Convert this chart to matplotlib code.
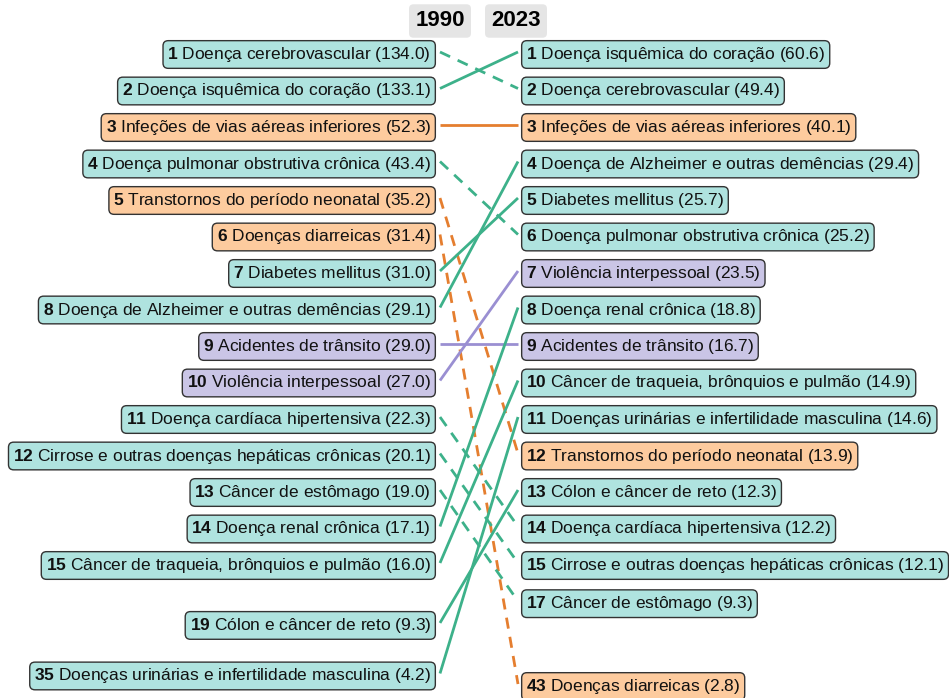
import numpy as np
import matplotlib
matplotlib.use("Agg")
import matplotlib.pyplot as plt

plt.rcParams['font.family'] = ['Liberation Sans', 'DejaVu Sans']
plt.rcParams['mathtext.fontset'] = 'custom'
plt.rcParams['mathtext.rm'] = 'Liberation Sans'
plt.rcParams['mathtext.bf'] = 'Liberation Sans:bold'

# ---- data ----
causes = [
    "Doença cerebrovascular",
    "Doença isquêmica do coração",
    "Infeções de vias aéreas inferiores",
    "Doença pulmonar obstrutiva crônica",
    "Transtornos do período neonatal",
    "Doenças diarreicas",
    "Diabetes mellitus",
    "Doença de Alzheimer e outras demências",
    "Acidentes de trânsito",
    "Violência interpessoal",
    "Doença cardíaca hipertensiva",
    "Cirrose e outras doenças hepáticas crônicas",
    "Câncer de estômago",
    "Doença renal crônica",
    "Câncer de traqueia, brônquios e pulmão",
    "Cólon e câncer de reto",
    "Doenças urinárias e infertilidade masculina",
]
rank_1990 = [1, 2, 3, 4, 5, 6, 7, 8, 9, 10, 11, 12, 13, 14, 15, 19, 35]
rate_1990 = [134.0, 133.1, 52.3, 43.4, 35.2, 31.4, 31.0, 29.1, 29.0, 27.0,
             22.3, 20.1, 19.0, 17.1, 16.0, 9.3, 4.2]
rank_2023 = [2, 1, 3, 6, 12, 43, 5, 4, 9, 7, 14, 15, 17, 8, 10, 13, 11]
rate_2023 = [49.4, 60.6, 40.1, 25.2, 13.9, 2.8, 25.7, 29.4, 16.7, 23.5,
             12.2, 12.1, 9.3, 18.8, 14.9, 12.3, 14.6]
group = ["ncd", "ncd", "cmn", "ncd", "cmn", "cmn", "ncd", "ncd", "inj", "inj",
         "ncd", "ncd", "ncd", "ncd", "ncd", "ncd", "ncd"]
years = ["1990", "2023"]

fill_colors = {"ncd": "#AFE3DF", "cmn": "#FDCB9E", "inj": "#CAC5E6"}
line_colors = {"ncd": "#3DB18A", "cmn": "#E57E2F", "inj": "#9A8FD2"}


def pos(rank):
    # compressed scale below rank 15
    rank = np.asarray(rank, dtype=float)
    return np.where(rank <= 15, rank,
                    15 + 0.86 * np.log(np.maximum(rank - 15, 1e-9)) + 0.45)


W, H = 949, 698
fig = plt.figure(figsize=(W / 100, H / 100), dpi=100)
ax = fig.add_axes([0, 0, 1, 1])
ax.set_xlim(0, W)
px_per_unit = 36.5
row1_px = 54.5
top = 1 - row1_px / px_per_unit
bottom = 1 + (H - row1_px) / px_per_unit
ax.set_ylim(bottom, top)
ax.axis('off')

xl_label = 434
xr_label = 522
xl_line = 440
xr_line = 518
line_shift = -2.5 / px_per_unit

pl = pos(rank_1990)
pr = pos(rank_2023)

for i, c in enumerate(causes):
    ls = '-' if rank_2023[i] <= rank_1990[i] else (0, (4, 3))
    ax.plot([xl_line, xr_line], [pl[i] + line_shift, pr[i] + line_shift],
            color=line_colors[group[i]], lw=2, ls=ls, zorder=1,
            solid_capstyle='butt')

fs = 12.5
for i, c in enumerate(causes):
    g = group[i]
    bb = dict(boxstyle='round,pad=0.25,rounding_size=0.3', fc=fill_colors[g],
              ec='#333333', lw=1.0)
    ax.text(xl_label - 3, pl[i], r"$\mathbf{%d}$ %s (%.1f)" % (rank_1990[i], c, rate_1990[i]),
            ha='right', va='center', fontsize=fs, bbox=bb, zorder=3, color='#111111')
    ax.text(xr_label + 4, pr[i], r"$\mathbf{%d}$ %s (%.1f)" % (rank_2023[i], c, rate_2023[i]),
            ha='left', va='center', fontsize=fs, bbox=bb, zorder=3, color='#111111')

hdr_y = 1 - (row1_px - 21) / px_per_unit
hb = dict(boxstyle='round,pad=0.28,rounding_size=0.2', fc='#E5E5E5', ec='none')
ax.text(440, hdr_y, years[0], ha='center', va='center', fontsize=16,
        fontweight='bold', bbox=hb)
ax.text(516, hdr_y, years[1], ha='center', va='center', fontsize=16,
        fontweight='bold', bbox=hb)

fig.savefig("out.png", dpi=100, facecolor='white')
